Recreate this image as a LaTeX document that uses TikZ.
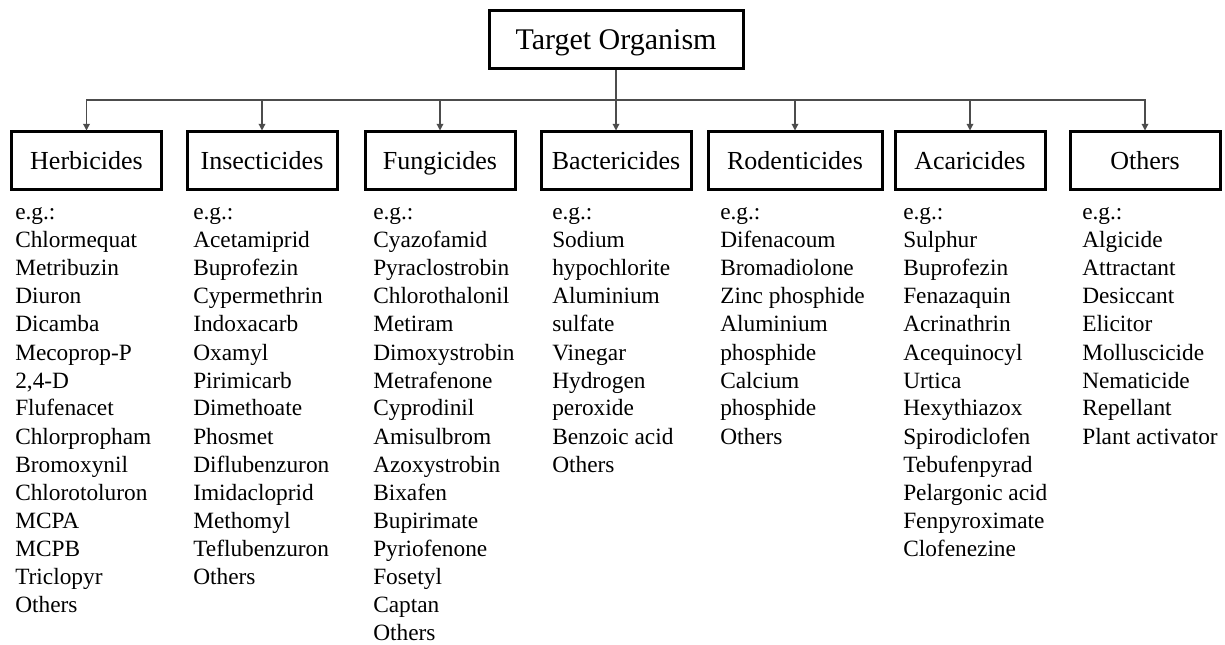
\documentclass[tikz,border=0pt]{standalone}
\usepackage{fontspec}
\setmainfont{Liberation Serif}
\usetikzlibrary{arrows.meta}

\tikzset{
  catbox/.style={draw, line width=2.25pt, minimum width=112.5pt, minimum height=43.5pt,
    inner sep=0pt, text height=13pt, text depth=0pt, font=\fontsize{19.5pt}{23pt}\selectfont},
  item/.style={anchor=base west, inner sep=0pt, font=\fontsize{17.5pt}{21pt}\selectfont},
  conn/.style={draw=black!70, line width=0.9pt},
}

\begin{document}
\begin{tikzpicture}[x=0.75pt, y=-0.75pt]
    \useasboundingbox (0,0) rectangle (1225,645);

    % Root
    \node[catbox, minimum width=190.5pt, text height=15pt, font=\fontsize{22.5pt}{27pt}\selectfont] (target) at (616,40) {Target Organism};

    % Categories
    \node[catbox] (herb) at (86.5,161) {Herbicides};
    \node[catbox] (insect) at (262,161) {Insecticides};
    \node[catbox] (fungi) at (440,161) {Fungicides};
    \node[catbox] (bact) at (616,161) {Bactericides};
    \node[catbox, minimum width=130.5pt] (rodent) at (795,161) {Rodenticides};
    \node[catbox] (acari) at (970,161) {Acaricides};
    \node[catbox] (other) at (1145,161) {Others};

    % Connectors
    \coordinate (bus) at (616,100);
    \draw[conn] (target.south) -- (bus);
    \foreach \c in {herb,insect,fungi,bact,rodent,acari,other} {
        \draw[conn, -{Triangle[length=5pt,width=5pt]}] (bus) -| (\c.north);
    }

    % Examples
    \foreach \t [count=\i from 0] in {e.g.:, Chlormequat, Metribuzin, Diuron, Dicamba, Mecoprop-P, {2,4-D}, Flufenacet, Chlorpropham, Bromoxynil, Chlorotoluron, MCPA, MCPB, Triclopyr, Others} {
        \node[item] (herb-\i) at (15, 220+28*\i) {\t};
    }
    \foreach \t [count=\i from 0] in {e.g.:, Acetamiprid, Buprofezin, Cypermethrin, Indoxacarb, Oxamyl, Pirimicarb, Dimethoate, Phosmet, Diflubenzuron, Imidacloprid, Methomyl, Teflubenzuron, Others} {
        \node[item] (insect-\i) at (193, 220+28*\i) {\t};
    }
    \foreach \t [count=\i from 0] in {e.g.:, Cyazofamid, Pyraclostrobin, Chlorothalonil, Metiram, Dimoxystrobin, Metrafenone, Cyprodinil, Amisulbrom, Azoxystrobin, Bixafen, Bupirimate, Pyriofenone, Fosetyl, Captan, Others} {
        \node[item] (fungi-\i) at (373, 220+28*\i) {\t};
    }
    \foreach \t [count=\i from 0] in {e.g.:, Sodium, hypochlorite, Aluminium, sulfate, Vinegar, Hydrogen, peroxide, Benzoic acid, Others} {
        \node[item] (bact-\i) at (552, 220+28*\i) {\t};
    }
    \foreach \t [count=\i from 0] in {e.g.:, Difenacoum, Bromadiolone, Zinc phosphide, Aluminium, phosphide, Calcium, phosphide, Others} {
        \node[item] (rodent-\i) at (720, 220+28*\i) {\t};
    }
    \foreach \t [count=\i from 0] in {e.g.:, Sulphur, Buprofezin, Fenazaquin, Acrinathrin, Acequinocyl, Urtica, Hexythiazox, Spirodiclofen, Tebufenpyrad, Pelargonic acid, Fenpyroximate, Clofenezine} {
        \node[item] (acari-\i) at (903, 220+28*\i) {\t};
    }
    \foreach \t [count=\i from 0] in {e.g.:, Algicide, Attractant, Desiccant, Elicitor, Molluscicide, Nematicide, Repellant, Plant activator} {
        \node[item] (other-\i) at (1082, 220+28*\i) {\t};
    }
\end{tikzpicture}
\end{document}
